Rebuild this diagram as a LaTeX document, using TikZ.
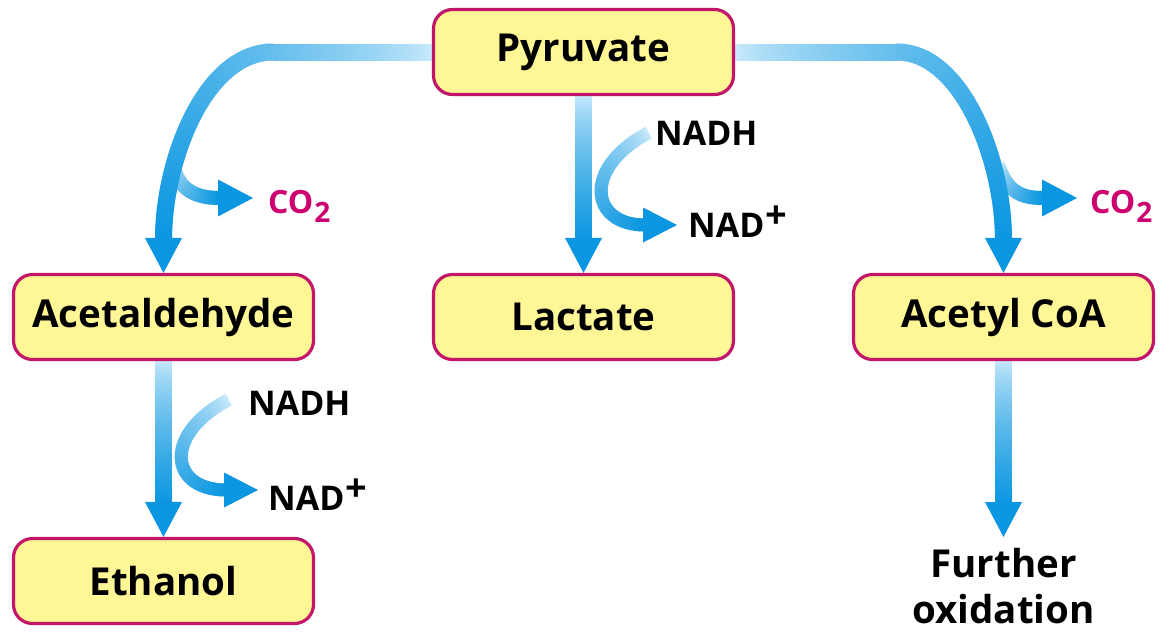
\documentclass[tikz,border=0pt]{standalone}
\usepackage{fontspec}
\setmainfont{Open Sans}
\usetikzlibrary{decorations.markings,calc}
\pgfdeclarelayer{background}
\pgfsetlayers{background,main}
\definecolor{arrlight}{RGB}{205,235,251}
\definecolor{arrdark}{RGB}{10,150,224}
\definecolor{boxfill}{RGB}{255,247,150}
\definecolor{boxline}{RGB}{196,22,104}
\definecolor{cotwo}{RGB}{204,0,110}
\newcommand\nadplus{\kern1pt\raisebox{9pt}{\fontsize{38}{38}\selectfont +}}
\newcommand\cosub{CO\kern1pt\raisebox{-9pt}{\fontsize{28}{28}\selectfont 2}}
\tikzset{
  flow/.style={decorate, decoration={markings,
    mark=between positions 0 and 1 step 1.2pt with {%
      \pgfmathsetmacro\gf{100*(max(0.001,\pgfkeysvalueof{/pgf/decoration/mark info/distance from start}/\pgfdecoratedpathlength))^0.7}%
      \fill[arrdark!\gf!arrlight] (-0.9pt,-#1) rectangle (0.9pt,#1);}}},
  mainflow/.style={flow=8.5pt},
  coflow/.style={flow=7pt},
  nadflow/.style={flow=6.5pt},
  hdown/.pic={\fill[arrdark] (-18.5,-35) -- (0,0) -- (18.5,-35) -- cycle;},
  hright/.pic={\fill[arrdark] (-35,-18.5) -- (0,0) -- (-35,18.5) -- cycle;},
  hrights/.pic={\fill[arrdark] (-34,-17.5) -- (0,0) -- (-34,17.5) -- cycle;},
  box/.style={draw=boxline, line width=3.2pt, fill=boxfill, rounded corners=19pt,
    minimum width=300pt, minimum height=85pt, inner sep=0pt,
    font=\fontsize{38.5}{40}\selectfont\bfseries},
  lbl/.style={font=\fontsize{34}{36}\selectfont\bfseries, inner sep=0pt, anchor=base west},
  colbl/.style={font=\fontsize{32}{34}\selectfont\bfseries, text=cotwo, inner sep=0pt, anchor=base west},
}
\begin{document}
\begin{tikzpicture}[x=1pt,y=-1pt]
\useasboundingbox (0,0) rectangle (1167,637);

\node[box] (pyr) at (583.5,52) {Pyruvate};
\node[box] (acet) at (163.5,317) {Acetaldehyde};
\node[box] (lac) at (583.5,317) {Lactate};
\node[box] (acoa) at (1003.5,317) {Acetyl CoA};
\node[box] (eth) at (163.5,581) {Ethanol};

\node[lbl] (nadh1) at (655,145) {NADH};
\node[lbl] (nad1) at (688,237) {NAD\nadplus};
\node[lbl] (nadh2) at (248,415) {NADH};
\node[lbl] (nad2) at (268,510) {NAD\nadplus};
\node[colbl] (co2a) at (268,213) {\cosub};
\node[colbl] (co2b) at (1090,213) {\cosub};

\coordinate (fotip) at (1003.5,537);
\node[font=\fontsize{38.5}{46}\selectfont\bfseries, align=center, inner sep=0pt] (fo) at (1003.5,586) {Further\\oxidation};

% free ends of the side arrows
\coordinate (co2atip) at (253,198);
\coordinate (co2btip) at (1077,198);
\coordinate (nad1tip) at (677,225);
\coordinate (nad2tip) at (258,490);

\begin{pgfonlayer}{background}
\fill[white] (0,0) rectangle (1167,637);
% left branch
\path[coflow] (173,163) .. controls (178,193) and (200,198) .. ($(co2atip)+(-33,0)$);
\pic at (co2atip) {hright};
\path[mainflow] (pyr.west) -- (273,52) .. controls (205,52) and (163.5,160) .. ($(acet.north)+(0,-33)$);
\pic at (acet.north) {hdown};
% right branch
\path[coflow] (998,165) .. controls (1008,195) and (1025,198) .. ($(co2btip)+(-33,0)$);
\pic at (co2btip) {hright};
\path[mainflow] (pyr.east) -- (897,52) .. controls (962,52) and (1003.5,160) .. ($(acoa.north)+(0,-33)$);
\pic at (acoa.north) {hdown};
% centre
\path[nadflow] (648,133) .. controls (582,168) and (590,225) .. ($(nad1tip)+(-32,0)$);
\pic at (nad1tip) {hrights};
\path[mainflow] (pyr.south) -- ($(lac.north)+(0,-33)$);
\pic at (lac.north) {hdown};
% lower left
\path[nadflow] (228,400) .. controls (162,435) and (170,490) .. ($(nad2tip)+(-32,0)$);
\pic at (nad2tip) {hrights};
\path[mainflow] (acet.south) -- ($(eth.north)+(0,-33)$);
\pic at (eth.north) {hdown};
% lower right
\path[mainflow] (acoa.south) -- ($(fotip)+(0,-33)$);
\pic at (fotip) {hdown};
\end{pgfonlayer}
\end{tikzpicture}
\end{document}
